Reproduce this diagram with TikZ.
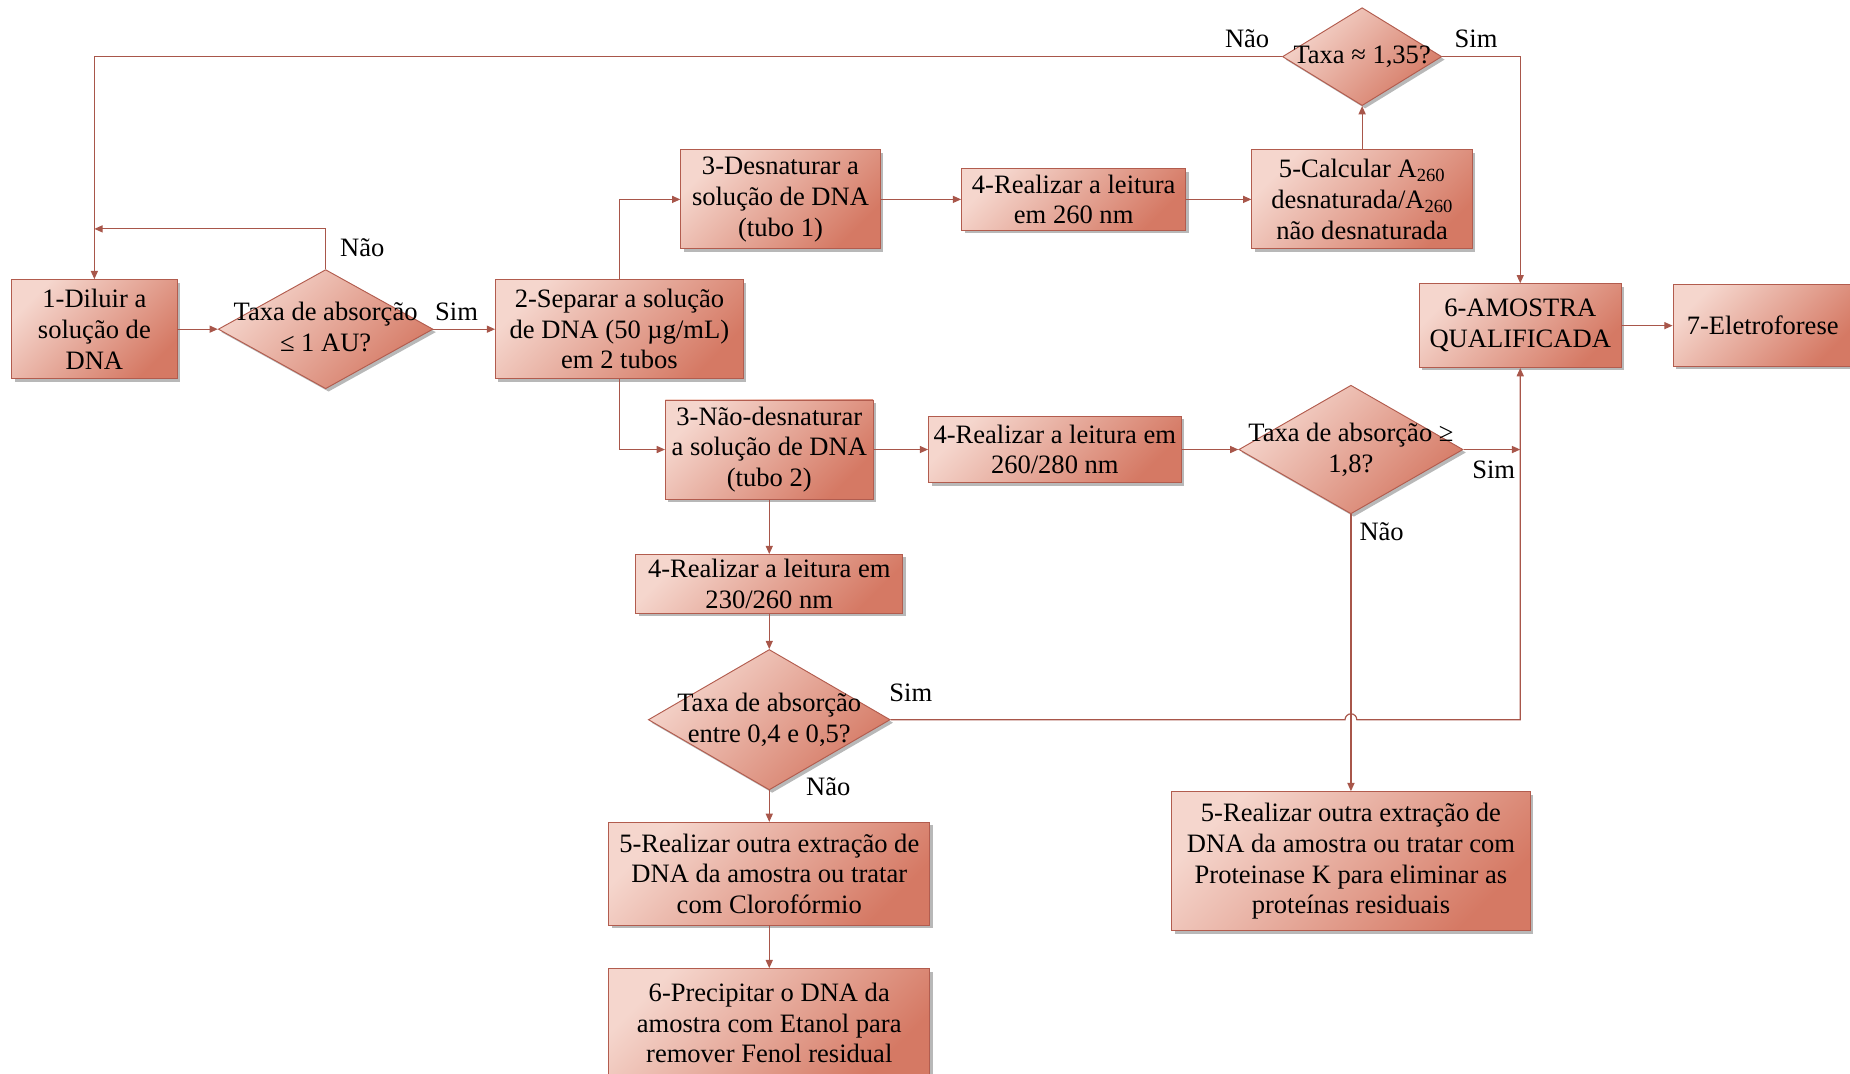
\documentclass[tikz,border=0pt]{standalone}
\usepackage{fontspec}
\setmainfont{Liberation Serif}
\usetikzlibrary{shapes.geometric,arrows.meta,shadows,calc}

\definecolor{boxlight}{HTML}{F5D6CD}
\definecolor{boxdark}{HTML}{D57964}
\definecolor{boxedge}{HTML}{B25C4E}
\definecolor{wire}{HTML}{A8564A}

\newcommand{\idx}[1]{\textsubscript{#1}}

\begin{document}
\begin{tikzpicture}[x=1pt,y=-1pt,
  every node/.style={font=\fontsize{22.5}{26}\selectfont},
  pinkfill/.style={top color=boxlight,bottom color=boxdark,shading angle=45,
    draw=boxedge,line width=0.8pt,
    drop shadow={shadow xshift=2.5pt,shadow yshift=-2.5pt,opacity=0.28,fill=black}},
  box/.style={pinkfill,rectangle,align=center,inner sep=0pt},
  dia/.style={pinkfill,diamond,inner sep=0pt},
  dtext/.style={align=center,inner sep=0pt},
  lbl/.style={inner sep=0pt},
  conn/.style={draw=wire,line width=1pt,-{Triangle[length=7pt,width=6pt]}},
  wireline/.style={draw=wire,line width=1pt}
]
\useasboundingbox (0,0) rectangle (1568,910);

% process boxes
\node[box,minimum width=140pt,minimum height=84pt] (b1) at (80,279) {1-Diluir a\\solução de\\DNA};
\node[box,minimum width=210pt,minimum height=84pt] (b2) at (525,279) {2-Separar a solução\\de DNA (50 µg/mL)\\em 2 tubos};
\node[box,minimum width=169pt,minimum height=84pt] (b3a) at (661.5,169) {3-Desnaturar a\\solução de DNA\\(tubo 1)};
\node[box,minimum width=176pt,minimum height=84pt] (b3b) at (652,381) {3-Não-desnaturar\\a solução de DNA\\(tubo 2)};
\node[box,minimum width=190pt,minimum height=52pt] (b4a) at (910,169) {4-Realizar a leitura\\em 260 nm};
\node[box,minimum width=187pt,minimum height=84pt] (b5a) at (1154.5,169) {5-Calcular A\idx{260}\\desnaturada/A\idx{260}\\não desnaturada};
\node[box,minimum width=171pt,minimum height=71pt] (b6) at (1288.5,276) {6-AMOSTRA\\QUALIFICADA};
\node[box,minimum width=152pt,minimum height=69pt] (b7) at (1494,276) {7-Eletroforese};
\node[box,minimum width=214pt,minimum height=56pt] (b4b) at (894,381) {4-Realizar a leitura em\\260/280 nm};
\node[box,minimum width=226pt,minimum height=50pt] (b4c) at (652,495) {4-Realizar a leitura em\\230/260 nm};
\node[box,minimum width=272pt,minimum height=87pt] (b5b) at (652,740.5) {5-Realizar outra extração de\\DNA da amostra ou tratar\\com Clorofórmio};
\node[box,minimum width=272pt,minimum height=92pt] (b6b) at (652,867) {6-Precipitar o DNA da\\amostra com Etanol para\\remover Fenol residual};
\node[box,minimum width=304pt,minimum height=118pt] (b5c) at (1145,730) {5-Realizar outra extração de\\DNA da amostra ou tratar com\\Proteinase K para eliminar as\\proteínas residuais};

% decisions
\node[dia,minimum width=182pt,minimum height=101pt] (d1) at (276,279) {};
\node[dtext] (d1t) at (276,277) {Taxa de absorção\\≤ 1 AU?};
\node[dia,minimum width=135pt,minimum height=83pt] (d3) at (1154.5,48) {};
\node[dtext] (d3t) at (1154.5,48) {Taxa ≈ 1,35?};
\node[dia,minimum width=190pt,minimum height=109pt] (d2) at (1145,381) {};
\node[dtext] (d2t) at (1145,381) {Taxa de absorção ≥\\1,8?};
\node[dia,minimum width=205pt,minimum height=119pt] (d4) at (652,610) {};
\node[dtext] (d4t) at (652,610) {Taxa de absorção\\entre 0,4 e 0,5?};

% branch labels
\node[lbl] (l1) at (307,210) {Não};
\node[lbl] (l2) at (387,264) {Sim};
\node[lbl] (l3) at (1057,33) {Não};
\node[lbl] (l4) at (1251,33) {Sim};
\node[lbl] (l5) at (1266,398) {Sim};
\node[lbl] (l6) at (1171,451) {Não};
\node[lbl] (l7) at (772,587) {Sim};
\node[lbl] (l8) at (702,667) {Não};

\coordinate (j1) at (80,194);

% connectors
\draw[conn] (b1.east) -- (d1.west);
\draw[conn] (d1.north) |- (j1);
\draw[conn] (d3.west) -| (b1.north);
\draw[conn] (d1.east) -- (b2.west);
\draw[conn] (b2.north) |- (b3a.west);
\draw[conn] (b2.south) |- (b3b.west);
\draw[conn] (b3a.east) -- (b4a.west);
\draw[conn] (b4a.east) -- (b5a.west);
\draw[conn] (b5a.north) -- (d3.south);
\draw[conn] (d3.east) -| (b6.north);
\draw[conn] (b6.east) -- (b7.west);
\draw[conn] (b3b.east) -- (b4b.west);
\draw[conn] (b4b.east) -- (d2.west);
\draw[conn] (d2.east) -- (d2.east -| b6.south);
\draw[conn] (d2.south) -- (b5c.north);
\draw[conn] (b3b.south) -- (b4c.north);
\draw[conn] (b4c.south) -- (d4.north);
\draw[conn] (d4.south) -- (b5b.north);
\draw[conn] (b5b.south) -- (b6b.north);
% line hops over the vertical connector from d2
\draw[conn] (d4.east) -- ($(d4.east -| d2.south)+(-5pt,0)$)
  arc[start angle=180,end angle=0,radius=5pt]
  -- (d4.east -| b6.south) -- (b6.south);
\end{tikzpicture}
\end{document}
